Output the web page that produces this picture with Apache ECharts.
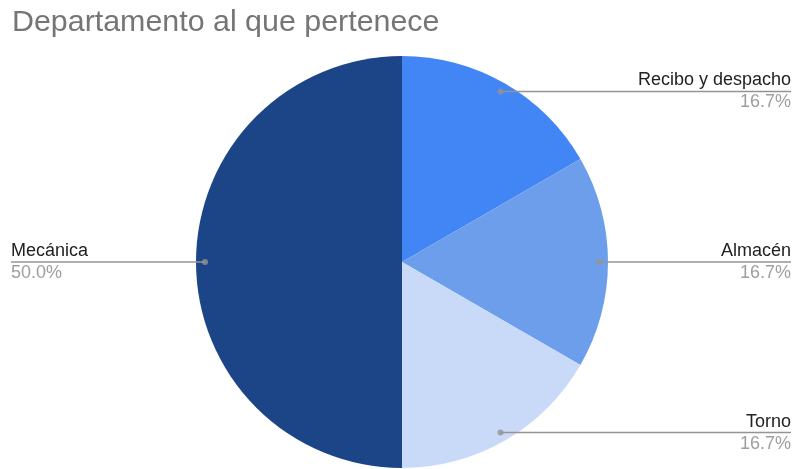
<!DOCTYPE html>
<html>
<head>
<meta charset="utf-8">
<script src="https://cdn.jsdelivr.net/npm/echarts@6/dist/echarts.min.js"></script>
<style>
  html, body { margin: 0; padding: 0; background: #fff; }
  #chart { width: 794px; height: 469px; }
</style>
</head>
<body>
<div id="chart"></div>
<script>
// Departments and the number of answers for each
const categories = ['Recibo y despacho', 'Almacén', 'Torno', 'Mecánica'];
const counts = [1, 1, 1, 3];
const colors = ['#4285f4', '#6d9eeb', '#c9daf8', '#1c4587'];

const total = counts.reduce((a, b) => a + b, 0);
const pieData = categories.map((name, i) => ({ value: counts[i], name, itemStyle: { color: colors[i] } }));

// Angle (in data units) at the middle of each slice, for the leader dots
let acc = 0;
const midAngles = counts.map(v => { const m = acc + v / 2; acc += v; return m; });

const CENTER = [394, 262];
const RADIUS = 206;
const DOT_R = 197;
const LINE_COLOR = '#949494';

const chart = echarts.init(document.getElementById('chart'), null, { renderer: 'canvas' });

chart.setOption({
  animation: false,
  title: {
    text: 'Departamento al que pertenece',
    left: 7,
    top: 3,
    textStyle: { fontFamily: 'Liberation Sans, Arial, sans-serif', fontSize: 30.4, fontWeight: 'normal', color: '#757575' }
  },
  polar: { center: [CENTER[0] + 8, CENTER[1]], radius: RADIUS },
  angleAxis: { type: 'value', min: 0, max: total, startAngle: 90, clockwise: true, show: false },
  radiusAxis: { type: 'value', min: 0, max: RADIUS, show: false },
  series: [
    {
      type: 'pie',
      left: 8, right: 0, top: 0, bottom: 0,
      center: CENTER,
      radius: RADIUS,
      startAngle: 90,
      clockwise: true,
      label: { show: false },
      labelLine: { show: false },
      emphasis: { disabled: true },
      itemStyle: { borderWidth: 0 },
      data: pieData,
      z: 1
    },
    {
      // transparent twin whose labels start inside the slices
      type: 'pie',
      left: 8, right: 0, top: 0, bottom: 0,
      center: CENTER,
      radius: DOT_R,
      startAngle: 90,
      clockwise: true,
      silent: true,
      itemStyle: { color: 'rgba(0,0,0,0)', borderWidth: 0 },
      emphasis: { disabled: true },
      data: pieData.map(d => ({ value: d.value, name: d.name })),
      label: {
        show: true,
        position: 'outside',
        alignTo: 'edge',
        edgeDistance: 3,
        formatter: p => '{n|' + p.name + '}\n{p|' + p.percent.toFixed(1) + '%}',
        rich: {
          n: { fontFamily: 'Liberation Sans, Arial, sans-serif', fontSize: 18, color: '#222', lineHeight: 22 },
          p: { fontFamily: 'Liberation Sans, Arial, sans-serif', fontSize: 18, color: '#9e9e9e', lineHeight: 22 }
        }
      },
      labelLine: {
        show: true,
        length: 0,
        length2: 10,
        smooth: false,
        lineStyle: { color: LINE_COLOR, width: 1.5 }
      },
      labelLayout: function (params) {
        const pts = params.labelLinePoints;
        if (!pts || !params.labelRect) return {};
        const r = params.labelRect;
        const last = pts[pts.length - 1];
        const onRight = last[0] <= r.x + 1;
        const out = pts.map(p => p.slice());
        out[out.length - 1] = [onRight ? r.x + r.width : r.x, last[1]];
        return { labelLinePoints: out };
      },
      z: 2
    },
    {
      type: 'scatter',
      coordinateSystem: 'polar',
      symbol: 'circle',
      symbolSize: 6,
      itemStyle: { color: LINE_COLOR },
      silent: true,
      data: midAngles.map(a => [DOT_R, a]),
      z: 3
    }
  ]
});
</script>
</body>
</html>
